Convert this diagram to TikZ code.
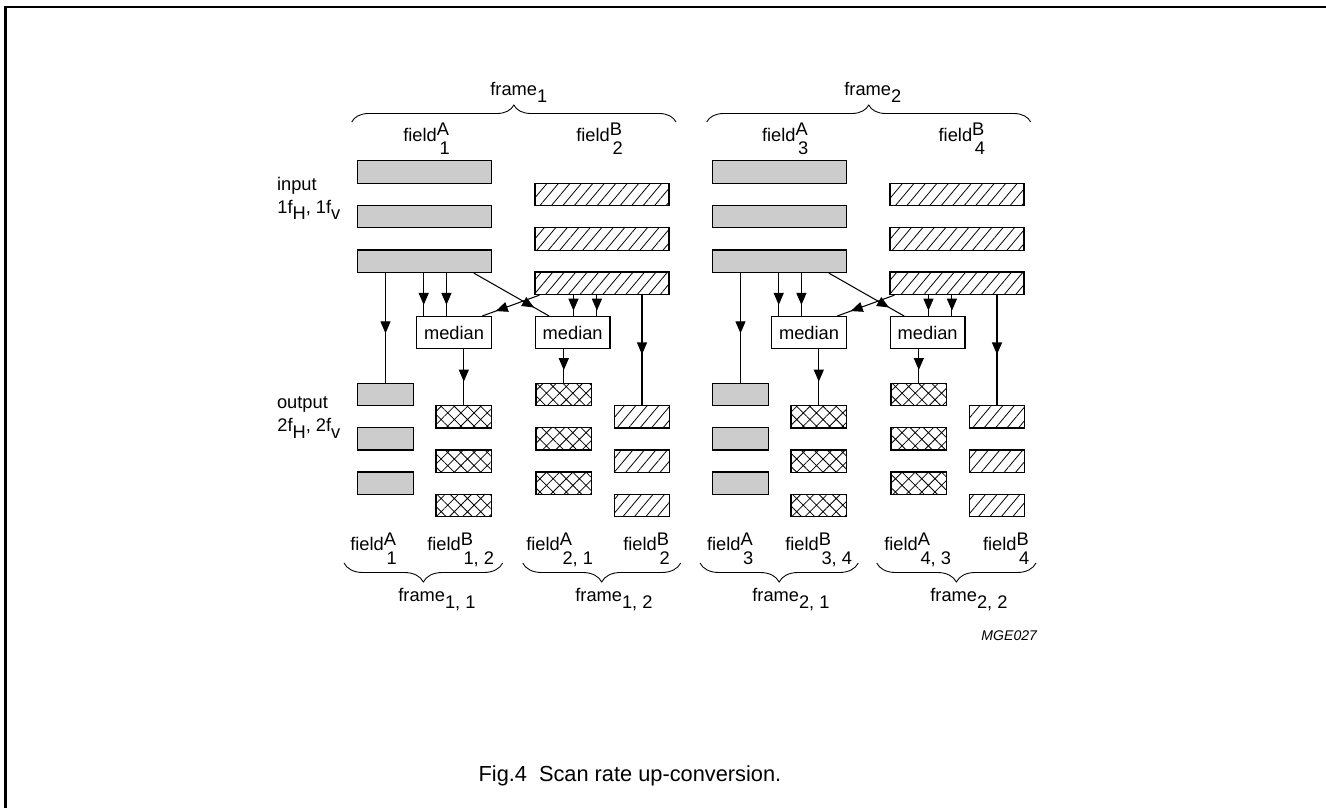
\documentclass[tikz,border=0pt]{standalone}
\usepackage{fontspec}
\setmainfont{Liberation Sans}
\usepackage{tikz}
\usetikzlibrary{calc,arrows.meta,patterns.meta,decorations.markings,decorations.pathreplacing}
\definecolor{bargray}{RGB}{204,204,204}
\newcommand{\lblfont}{\fontsize{10.4}{12}\selectfont}
\newcommand{\capfont}{\fontsize{12.4}{14}\selectfont}
\newcommand{\fld}[2]{field\rlap{\raisebox{3pt}{#1}}\hspace{1.5pt}\raisebox{-7.8pt}{#2}}
\newcommand{\frm}[1]{frame\raisebox{-4pt}{#1}}
\newcommand{\fsub}[1]{\raisebox{-3.8pt}{#1}}
\tikzset{
    bar/.style={draw,line width=0.7pt,inner sep=0pt,minimum height=0.45cm},
    inbar/.style={bar,minimum width=2.68cm},
    outbar/.style={bar,minimum width=1.11cm},
    grayfill/.style={fill=bargray},
    hatchfill/.style={pattern={Lines[angle=50,distance=5pt,line width=0.45pt]}},
    crossfill/.style={pattern={Hatch[angle=45,distance=5.3pt,line width=0.45pt]}},
    medianbox/.style={draw,line width=0.7pt,minimum width=1.49cm,minimum height=0.64cm,inner sep=0pt,font=\lblfont},
    midarr/.style={line width=0.6pt,postaction={decorate},decoration={markings,mark=at position #1 with {\arrow{Triangle[length=6.8pt,width=5.7pt]}}}},
    midarr/.default=0.55,
    lbl/.style={anchor=base west,inner sep=0pt,font=\lblfont},
    brc/.style={decorate,decoration={brace,amplitude=#1},line width=0.5pt}
}
\begin{document}
\begin{tikzpicture}[x=0.02cm,y=-0.02cm]
    \useasboundingbox (0,0) rectangle (1326,808);
    \draw [line width=1.2pt] (5.5,808) -- (5.5,7) -- (1326,7);
    \foreach \h/\dx in {1/0,2/355}{
        \begin{scope}[shift={(\dx,0)}]
            % input lines
            \foreach \i/\y in {1/172,2/216.5,3/261.2}
                \node [inbar,grayfill] (ia\h\i) at (424.7,\y) {};
            \foreach \i/\y in {1/194.5,2/239,3/283.3}
                \node [inbar,hatchfill] (ib\h\i) at (602,\y) {};
            \node [medianbox] (ma\h) at (454,332.7) {median};
            \node [medianbox] (mb\h) at (572.7,332.7) {median};
            % output lines
            \foreach \i/\y in {1/394.5,2/438.8,3/483.2}{
                \node [outbar,grayfill] (oa\h\i) at (385.5,\y) {};
                \node [outbar,crossfill] (oc\h\i) at (563.8,\y) {};
            }
            \foreach \i/\y in {1/416.8,2/461.2,3/505.5}{
                \node [outbar,crossfill] (od\h\i) at (463.8,\y) {};
                \node [outbar,hatchfill] (ob\h\i) at (642,\y) {};
            }
        \end{scope}
        \coordinate (pa\h1) at ($(ma\h.north west)!0.1!(ma\h.north east)$);
        \coordinate (pa\h2) at ($(ma\h.north west)!0.4!(ma\h.north east)$);
        \coordinate (pa\h3) at ($(ma\h.north west)!0.87!(ma\h.north east)$);
        \coordinate (pb\h1) at ($(mb\h.north west)!0.19!(mb\h.north east)$);
        \coordinate (pb\h2) at ($(mb\h.north west)!0.51!(mb\h.north east)$);
        \coordinate (pb\h3) at ($(mb\h.north west)!0.82!(mb\h.north east)$);
        \coordinate (qa\h) at ($(ia\h3.south west)!0.863!(ia\h3.south east)$);
        \coordinate (qb\h) at ($(ib\h3.south west)!0.037!(ib\h3.south east)$);
        \draw [midarr] (ia\h3.south -| oa\h1.north) -- (oa\h1.north);
        \draw [midarr=0.74] (ia\h3.south -| pa\h1) -- (pa\h1);
        \draw [midarr=0.74] (ia\h3.south -| pa\h2) -- (pa\h2);
        \draw [midarr=0.74] (ib\h3.south -| pb\h2) -- (pb\h2);
        \draw [midarr=0.74] (ib\h3.south -| pb\h3) -- (pb\h3);
        \draw [midarr=0.8] (qa\h) -- (pb\h1);
        \draw [midarr=0.76] (qb\h) -- (pa\h3);
        \draw [midarr=0.58] (ma\h.south -| od\h1.north) -- (od\h1.north);
        \draw [midarr=0.62] (mb\h.south -| oc\h1.north) -- (oc\h1.north);
        \draw [midarr=0.54] (ib\h3.south -| ob\h1.north) -- (ob\h1.north);
    }
    % braces
    \draw [brc=0.34cm] (351.7,122) -- (676,122);
    \draw [brc=0.34cm] (706.7,122) -- (1030.7,122);
    \draw [brc=0.38cm] (502.7,563) -- (344,563);
    \draw [brc=0.38cm] (680.7,563) -- (522.7,563);
    \draw [brc=0.38cm] (858.3,563) -- (700,563);
    \draw [brc=0.38cm] (1036,563) -- (876.7,563);
    % labels
    \node [lbl] (fr1) at (490,95) {\frm{1}};
    \node [lbl] (fr2) at (844,95) {\frm{2}};
    \node [lbl] (fa1) at (403,141) {\fld{A}{1}};
    \node [lbl] (fb2) at (576,141) {\fld{B}{2}};
    \node [lbl] (fa3) at (761.7,141) {\fld{A}{3}};
    \node [lbl] (fb4) at (938.3,141) {\fld{B}{4}};
    \node [lbl] (inp) at (276.7,190) {input};
    \node [lbl] (inf) at (277,213.3) {1f\fsub{H}, 1f\fsub{v}};
    \node [lbl] (outp) at (276.7,408.3) {output};
    \node [lbl] (outf) at (277,431.7) {2f\fsub{H}, 2f\fsub{v}};
    \node [lbl] (ga1) at (350,550.7) {\fld{A}{1}};
    \node [lbl] (gb12) at (427,550.7) {\fld{B}{1, 2}};
    \node [lbl] (ga21) at (526,550.7) {\fld{A}{2, 1}};
    \node [lbl] (gb2) at (623,550.7) {\fld{B}{2}};
    \node [lbl] (ga3) at (706.7,550.7) {\fld{A}{3}};
    \node [lbl] (gb34) at (785,550.7) {\fld{B}{3, 4}};
    \node [lbl] (ga43) at (884,550.7) {\fld{A}{4, 3}};
    \node [lbl] (gb4) at (982.7,550.7) {\fld{B}{4}};
    \node [lbl] (fr11) at (398,601.7) {\frm{1, 1}};
    \node [lbl] (fr12) at (575,601.7) {\frm{1, 2}};
    \node [lbl] (fr21) at (752,601.7) {\frm{2, 1}};
    \node [lbl] (fr22) at (930,601.7) {\frm{2, 2}};
    \node [anchor=base east,inner sep=0pt,font=\fontsize{8}{9.6}\selectfont\itshape] (code) at (1037.3,640) {MGE027};
    \node [anchor=base west,inner sep=0pt,font=\capfont] (cap) at (478.3,781.7) {Fig.4\hspace{6.8pt}Scan rate up-conversion.};
\end{tikzpicture}
\end{document}
